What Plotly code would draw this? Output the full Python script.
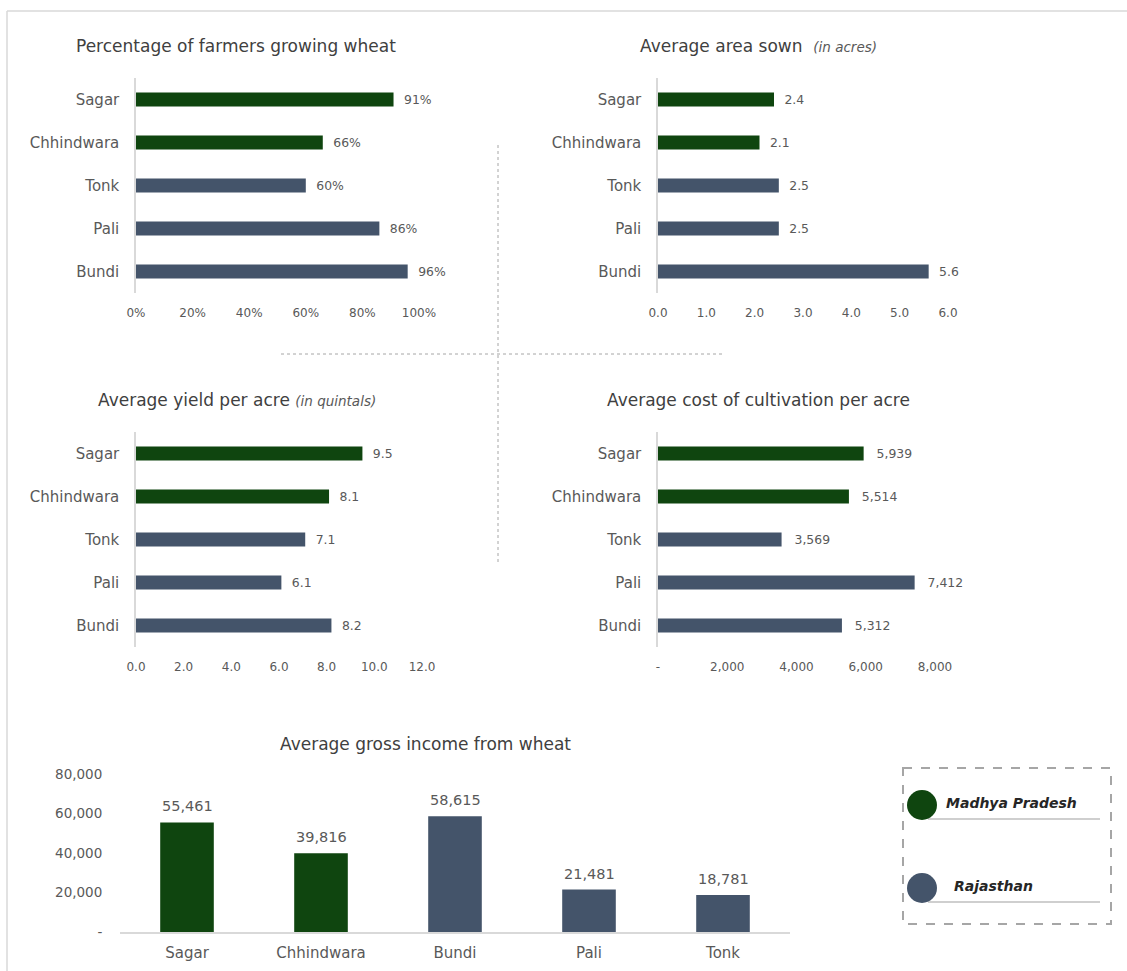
import plotly.graph_objects as go

# ---- data ----
districts = ["Sagar", "Chhindwara", "Tonk", "Pali", "Bundi"]
pct_growing = [91, 66, 60, 86, 96]
area_sown = [2.4, 2.1, 2.5, 2.5, 5.6]
yield_per_acre = [9.5, 8.1, 7.1, 6.1, 8.2]
cost_per_acre = [5939, 5514, 3569, 7412, 5312]

income_districts = ["Sagar", "Chhindwara", "Bundi", "Pali", "Tonk"]
gross_income = [55461, 39816, 58615, 21481, 18781]

state_of = {"Sagar": "Madhya Pradesh", "Chhindwara": "Madhya Pradesh",
            "Tonk": "Rajasthan", "Pali": "Rajasthan", "Bundi": "Rajasthan"}
state_colors = {"Madhya Pradesh": "#0f450f", "Rajasthan": "#44546a"}

pct_ticks = [0, 20, 40, 60, 80, 100]
area_ticks = [0, 1, 2, 3, 4, 5, 6]
yield_ticks = [0, 2, 4, 6, 8, 10, 12]
cost_ticks = [0, 2000, 4000, 6000, 8000]
income_ticks = [0, 20000, 40000, 60000, 80000]

# ---- page geometry helpers (pixel -> paper) ----
W, H = 1127, 971
FONT = "DejaVu Sans"
LABEL = "#595959"
AXIS = "#d9d9d9"


def fx(px):
    return px / W


def fy(py):
    return 1 - py / H


def thousands(v):
    return "-" if v == 0 else f"{v:,}"


fig = go.Figure()

bar_colors = [state_colors[state_of[d]] for d in districts]
income_colors = [state_colors[state_of[d]] for d in income_districts]

PAD = "\u2009\u2009\u2009"
# horizontal panels: (values, axis suffix, label strings)
panels = [
    (pct_growing, "", [f"{PAD}{v}%" for v in pct_growing]),
    (area_sown, "2", [f"{PAD}{v:.1f}" for v in area_sown]),
    (yield_per_acre, "3", [f"{PAD}{v:.1f}" for v in yield_per_acre]),
    (cost_per_acre, "4", [f"{PAD}\u2009{v:,}" for v in cost_per_acre]),
]
for vals, sfx, labels in panels:
    fig.add_trace(go.Bar(
        x=vals, y=districts, orientation="h",
        marker=dict(color=bar_colors, line=dict(width=0)),
        width=0.33,
        text=labels, texttemplate="%{text}", textposition="outside",
        textfont=dict(family=FONT, size=14, color=LABEL),
        cliponaxis=False, showlegend=False, hoverinfo="x+y",
        xaxis="x" + sfx, yaxis="y" + sfx,
    ))

# vertical income chart
fig.add_trace(go.Bar(
    x=income_districts, y=gross_income,
    marker=dict(color=income_colors, line=dict(width=0)),
    width=0.4,
    cliponaxis=False, showlegend=False,
    xaxis="x5", yaxis="y5",
))


def val_axis(dom, rng, ticks, text, anchor):
    return dict(domain=dom, range=rng, tickvals=ticks, ticktext=text,
                showgrid=False, zeroline=False, showline=False, automargin=False,
                ticks="outside", ticklen=9, tickcolor="rgba(0,0,0,0)",
                tickfont=dict(family=FONT, size=12, color=LABEL),
                anchor=anchor, fixedrange=True)


def cat_axis(dom, anchor):
    return dict(domain=dom, type="category", categoryorder="array",
                categoryarray=districts, autorange="reversed", automargin=False,
                showgrid=False, zeroline=False, showline=True,
                linecolor=AXIS, linewidth=1.5,
                ticks="outside", ticklen=12, tickcolor="rgba(0,0,0,0)",
                tickfont=dict(family=FONT, size=15, color=LABEL),
                anchor=anchor, fixedrange=True)


top = [fy(293), fy(78)]
bottom = [fy(647), fy(432)]

fig.update_layout(
    xaxis=val_axis([fx(136), fx(419)], [0, 100], pct_ticks,
                   [f"{t}%" for t in pct_ticks], "y"),
    yaxis=cat_axis(top, "x"),
    xaxis2=val_axis([fx(658), fx(948)], [0, 6], area_ticks,
                    [f"{t:.1f}" for t in area_ticks], "y2"),
    yaxis2=cat_axis(top, "x2"),
    xaxis3=val_axis([fx(136), fx(422)], [0, 12], yield_ticks,
                    [f"{t:.1f}" for t in yield_ticks], "y3"),
    yaxis3=cat_axis(bottom, "x3"),
    xaxis4=val_axis([fx(658), fx(935)], [0, 8000], cost_ticks,
                    [thousands(t) for t in cost_ticks], "y4"),
    yaxis4=cat_axis(bottom, "x4"),
    xaxis5=dict(domain=[fx(120), fx(790)], type="category", automargin=False,
                showgrid=False, zeroline=False, showline=True,
                linecolor=AXIS, linewidth=1.5,
                ticks="outside", ticklen=6, tickcolor="rgba(0,0,0,0)",
                tickfont=dict(family=FONT, size=15, color=LABEL),
                anchor="y5", fixedrange=True),
    yaxis5=dict(domain=[fy(932), fy(774)], range=[0, 80000], automargin=False,
                tickvals=income_ticks,
                ticktext=[thousands(t) for t in income_ticks],
                showgrid=False, zeroline=False, showline=False,
                ticks="outside", ticklen=14, tickcolor="rgba(0,0,0,0)",
                tickfont=dict(family=FONT, size=13.5, color=LABEL),
                anchor="x5", fixedrange=True),
)

annotations = []
# value labels above the income bars
for d, v in zip(income_districts, gross_income):
    annotations.append(dict(text=f"{v:,}", x=d, y=v, xref="x5", yref="y5",
                            xanchor="center", yanchor="middle", yshift=16,
                            showarrow=False,
                            font=dict(family=FONT, size=14.5, color=LABEL)))

# panel titles
small_i = "<span style='font-size:13.5px;color:#595959'><i>{}</i></span>"
titles = [
    ("Percentage of farmers growing wheat", 236, 46),
    ("Average area sown  " + small_i.format("(in acres)"), 758, 46),
    ("Average yield per acre " + small_i.format("(in quintals)"), 237, 400),
    ("Average cost of cultivation per acre", 758, 400),
    ("Average gross income from wheat", 425, 744),
]
for text, cx, cy in titles:
    annotations.append(dict(text=text, x=fx(cx), y=fy(cy), xref="paper", yref="paper",
                            xanchor="center", yanchor="middle", showarrow=False,
                            font=dict(family=FONT, size=17, color="#404040")))

shapes = []
# outer frame (top and left edges)
shapes.append(dict(type="line", xref="paper", yref="paper",
                   x0=fx(7), x1=1.0, y0=fy(11), y1=fy(11),
                   line=dict(color=AXIS, width=1.5)))
shapes.append(dict(type="line", xref="paper", yref="paper",
                   x0=fx(7), x1=fx(7), y0=fy(11), y1=0.0,
                   line=dict(color=AXIS, width=1.5)))
# dotted quadrant separators
shapes.append(dict(type="line", xref="paper", yref="paper",
                   x0=fx(498), x1=fx(498), y0=fy(145), y1=fy(564),
                   line=dict(color="#a6a6a6", width=1, dash="dot")))
shapes.append(dict(type="line", xref="paper", yref="paper",
                   x0=fx(281), x1=fx(723), y0=fy(354), y1=fy(354),
                   line=dict(color="#a6a6a6", width=1, dash="dot")))

# state key box
shapes.append(dict(type="rect", xref="paper", yref="paper",
                   x0=fx(903), x1=fx(1111), y0=fy(768), y1=fy(924),
                   line=dict(color="#a6a6a6", width=2, dash="dash")))
key_rows = [("Madhya Pradesh", 805, 944), ("Rajasthan", 888, 952)]
for state, cy, tx in key_rows:
    shapes.append(dict(type="line", xref="paper", yref="paper",
                       x0=fx(928), x1=fx(1100), y0=fy(cy + 14), y1=fy(cy + 14),
                       line=dict(color="#bfbfbf", width=1.5)))
    shapes.append(dict(type="circle", xref="paper", yref="paper",
                       x0=fx(922 - 15), x1=fx(922 + 15), y0=fy(cy + 15), y1=fy(cy - 15),
                       fillcolor=state_colors[state], line=dict(width=0)))
    annotations.append(dict(text=f"<b><i>{state}</i></b>", x=fx(tx), y=fy(cy - 2),
                            xref="paper", yref="paper", xanchor="left", yanchor="middle",
                            showarrow=False,
                            font=dict(family=FONT, size=14, color="#262626")))

fig.update_layout(
    width=W, height=H,
    margin=dict(l=0, r=0, t=0, b=0, autoexpand=False),
    paper_bgcolor="white", plot_bgcolor="white",
    annotations=annotations, shapes=shapes,
    bargap=0.5, showlegend=False,
)

fig.write_html("out.html")
